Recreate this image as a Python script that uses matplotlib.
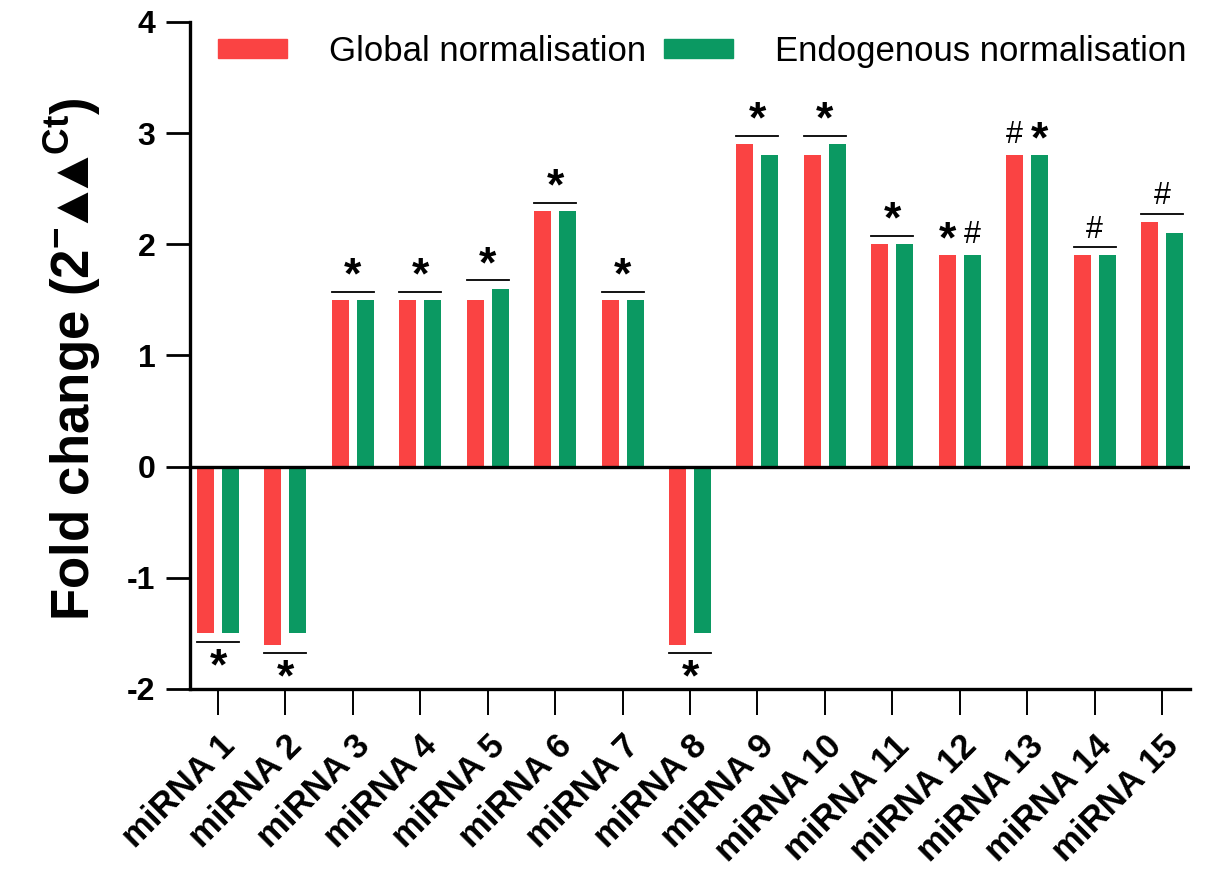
import matplotlib
matplotlib.use("Agg")
import matplotlib.pyplot as plt
from matplotlib.patches import Patch
import numpy as np

plt.rcParams['font.family'] = ['Liberation Sans', 'DejaVu Sans']
plt.rcParams['mathtext.fontset'] = 'custom'
plt.rcParams['mathtext.rm'] = 'Liberation Sans'
plt.rcParams['mathtext.bf'] = 'Liberation Sans:bold'

categories = [f"miRNA {i}" for i in range(1, 16)]
global_norm = [-1.5, -1.6, 1.5, 1.5, 1.5, 2.3, 1.5, -1.6, 2.9, 2.8, 2.0, 1.9, 2.8, 1.9, 2.2]
endog_norm = [-1.5, -1.5, 1.5, 1.5, 1.6, 2.3, 1.5, -1.5, 2.8, 2.9, 2.0, 1.9, 2.8, 1.9, 2.1]
group_marks = ['*', '*', '*', '*', '*', '*', '*', '*', '*', '*', '*', '', '', '#', '#']
global_marks = ['', '', '', '', '', '', '', '', '', '', '', '*', '#', '', '']
endog_marks = ['', '', '', '', '', '', '', '', '', '', '', '#', '*', '', '']
series_labels = ["Global normalisation", "Endogenous normalisation"]
yticks = [-2, -1, 0, 1, 2, 3, 4]

RED = '#FA4343'
GREEN = '#0B9962'

fig = plt.figure(figsize=(12.25, 8.74), dpi=100)
ax = fig.add_axes([190/1225, 1-689/874, 1000/1225, 667/874])

x = np.arange(len(categories))
w = 0.252
off = 0.185
ax.bar(x - off, global_norm, w, color=RED, zorder=2)
ax.bar(x + off, endog_norm, w, color=GREEN, zorder=2)

ax.axhline(0, color='black', lw=2.4, zorder=3)

ax.set_xlim(-0.415, 14.415)
ax.set_ylim(-2, 4)
ax.set_yticks(yticks)
ax.set_yticklabels([str(t) for t in yticks], fontsize=23, fontweight='bold')
ax.set_xticks(x)
ax.set_xticklabels(categories, fontsize=25, fontweight='bold', rotation=45,
                   ha='right', rotation_mode='anchor')

for s in ['top', 'right']:
    ax.spines[s].set_visible(False)
for s in ['left', 'bottom']:
    ax.spines[s].set_linewidth(2.4)
ax.tick_params(axis='y', length=17, width=2.0, pad=8)
ax.tick_params(axis='x', length=19, width=1.4, pad=10)

lw_ann = 1.3
gap = 0.075
STAR = dict(ha='center', va='baseline', fontsize=32, fontweight='bold')
HASH = dict(ha='center', va='baseline', fontsize=22)
for i in range(len(categories)):
    g, e = global_norm[i], endog_norm[i]
    m = group_marks[i]
    if m:
        if g > 0:
            yl = max(g, e) + gap
            ax.plot([x[i] - off - w/2, x[i] + off + w/2], [yl, yl], color='black', lw=lw_ann)
            if m == '*':
                ax.text(x[i], yl + 0.03, m, **STAR)
            else:
                ax.text(x[i], yl + 0.085, m, **HASH)
        else:
            yl = min(g, e) - gap
            ax.plot([x[i] - off - w/2, x[i] + off + w/2], [yl, yl], color='black', lw=lw_ann)
            ax.text(x[i], yl - 0.34, m, **STAR)
    for mk, val, dx in [(global_marks[i], g, -off), (endog_marks[i], e, off)]:
        if mk == '*':
            ax.text(x[i] + dx, val + 0.03, mk, **STAR)
        elif mk == '#':
            ax.text(x[i] + dx, val + 0.11, mk, **HASH)

ax.set_ylabel('Fold change (2$^{\\mathbf{-}}$$\\!$▲$\\!\\!$▲$\\!^{\\mathbf{Ct}}$)',
              fontsize=38, fontweight='bold')
ax.yaxis.set_label_coords(-0.087, 0.495)

handles = [Patch(color=RED), Patch(color=GREEN)]
leg = fig.legend(handles, series_labels, loc='upper left', bbox_to_anchor=(218/1225, 1-35/874),
                 ncol=2, frameon=False, fontsize=25, handlelength=2.0, handleheight=0.45,
                 handletextpad=1.2, columnspacing=0.5, borderpad=0, borderaxespad=0)

fig.savefig('out.png', dpi=100)
